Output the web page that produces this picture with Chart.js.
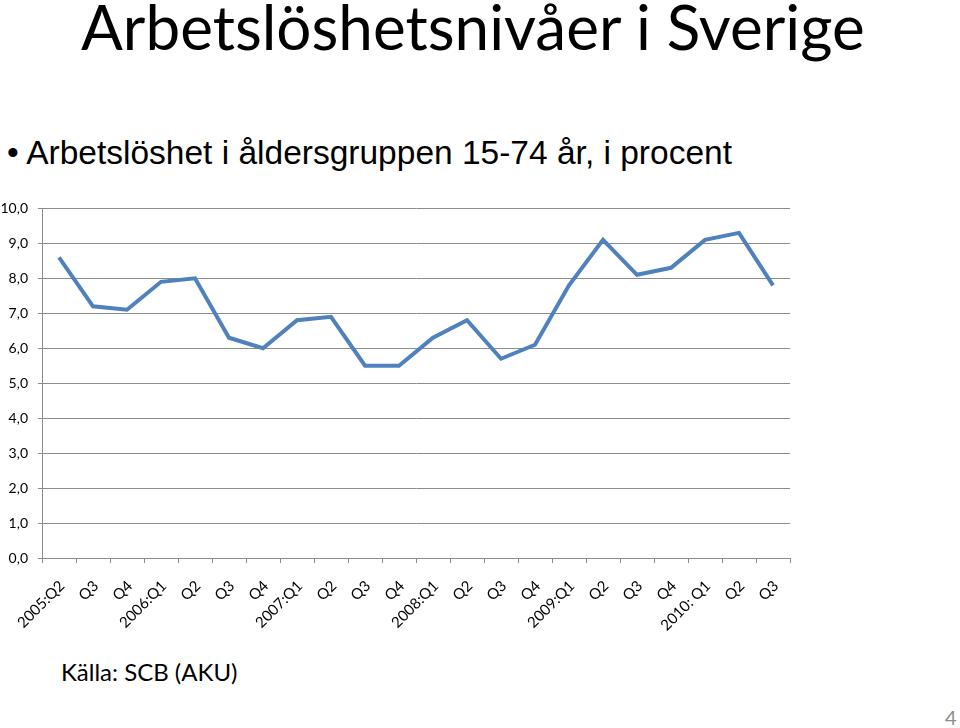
<!DOCTYPE html>
<html>
<head>
<meta charset="utf-8">
<script src="https://cdn.jsdelivr.net/npm/chart.js@4"></script>
<style>
  body { margin: 0; background: #fff; width: 960px; height: 728px; position: relative; overflow: hidden; }
  .title { position: absolute; left: 81px; top: -11px; font-family: Lato, sans-serif; font-size: 62px; color: #000; white-space: nowrap; }
  .bullet { position: absolute; left: 7px; top: 134px; font-family: "Liberation Sans", Arial, sans-serif; font-size: 33.5px; color: #000; white-space: nowrap; }
  .source { position: absolute; left: 61px; top: 657px; font-family: Lato, sans-serif; font-size: 24px; color: #000; }
  .page { position: absolute; left: 945px; top: 705px; font-family: Lato, sans-serif; font-size: 20px; color: #8c8c8c; }
  #wrap { position: absolute; left: 0; top: 190px; width: 800px; height: 460px; }
</style>
</head>
<body>
<div class="title">Arbetslöshetsnivåer i Sverige</div>
<div class="bullet">• Arbetslöshet i åldersgruppen 15-74 år, i procent</div>
<div id="wrap"><canvas id="chart" width="800" height="460"></canvas></div>
<div class="source">Källa: SCB (AKU)</div>
<div class="page">4</div>
<script>
// kvartal
const kvartal = ['2005:Q2', 'Q3', 'Q4', '2006:Q1', 'Q2', 'Q3', 'Q4', '2007:Q1', 'Q2', 'Q3', 'Q4',
    '2008:Q1', 'Q2', 'Q3', 'Q4', '2009:Q1', 'Q2', 'Q3', 'Q4', '2010: Q1', 'Q2', 'Q3'];

// arbetslöshet i procent, 15-74 år
const arbetsloshet = [8.6, 7.2, 7.1, 7.9, 8.0, 6.3, 6.0, 6.8, 6.9, 5.5, 5.5,
    6.3, 6.8, 5.7, 6.1, 7.8, 9.1, 8.1, 8.3, 9.1, 9.3, 7.8];

const yMin = 0;
const yMax = 10;
const yStep = 1;

const gra = '#8c8c8c';

const ctx = document.getElementById('chart').getContext('2d');
new Chart(ctx, {
    type: 'line',
    data: {
        labels: kvartal,
        datasets: [{
            data: arbetsloshet,
            borderColor: '#4f81bd',
            borderWidth: 4,
            pointRadius: 0,
            tension: 0,
            fill: false
        }]
    },
    options: {
        responsive: false,
        animation: false,
        layout: { padding: { top: 18, right: 10, left: 0, bottom: 0 } },
        plugins: {
            legend: { display: false },
            tooltip: { enabled: false }
        },
        scales: {
            x: {
                offset: true,
                grid: {
                    offset: true,
                    drawOnChartArea: false,
                    drawTicks: true,
                    tickLength: 5,
                    color: gra
                },
                border: { color: gra },
                ticks: {
                    minRotation: 45,
                    maxRotation: 45,
                    autoSkip: false,
                    padding: 14,
                    labelOffset: 3,
                    color: '#000',
                    font: { family: 'Lato', size: 15 }
                },
                afterFit: function (scale) {
                    // låser plotytan så att etiketterna inte flyttar den
                    scale.height = 92;
                    scale.paddingLeft = 0;
                    scale.paddingRight = 0;
                }
            },
            y: {
                min: yMin,
                max: yMax,
                grid: {
                    color: gra,
                    tickLength: 4
                },
                border: { color: gra },
                ticks: {
                    stepSize: yStep,
                    padding: 10,
                    color: '#000',
                    font: { family: 'Lato', size: 14 },
                    callback: function (v) { return v.toFixed(1).replace('.', ','); }
                },
                afterFit: function (scale) { scale.width = 42; }
            }
        }
    }
});
</script>
</body>
</html>
